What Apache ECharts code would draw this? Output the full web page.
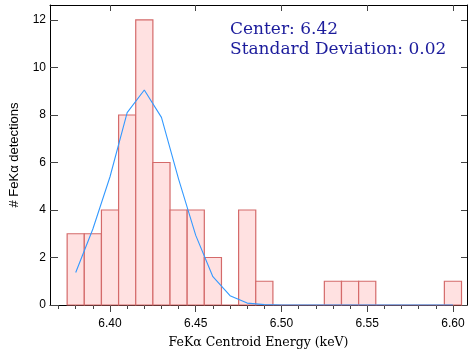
<!DOCTYPE html>
<html><head><meta charset="utf-8">
<script src="https://cdn.jsdelivr.net/npm/echarts@6/dist/echarts.min.js"></script>
<style>html,body{margin:0;padding:0;background:#fff}#c{width:468px;height:354px}</style>
</head><body><div id="c"></div>
<script>
// Histogram bin centres (keV) and counts
const binCenters = [6.38,6.39,6.40,6.41,6.42,6.43,6.44,6.45,6.46,6.47,6.48,6.49,6.50,6.51,6.52,6.53,6.54,6.55,6.56,6.57,6.58,6.59,6.60];
const counts     = [3,3,4,8,12,6,4,4,2,0,4,1,0,0,0,1,1,1,0,0,0,0,1];
const fitValues  = [1.37,3.2,5.4,8.1,9.05,7.9,5.3,2.93,1.19,0.39,0.08,0.015,0,0,0,0,0,0,0,0,0,0,0];
const binWidth = 0.01;
// Axis ticks / labels
const xMajorTicks = [6.40,6.45,6.50,6.55,6.60];
const xMinorTicks = [6.37,6.38,6.39,6.40,6.41,6.42,6.43,6.44,6.45,6.46,6.47,6.48,6.49,6.50,6.51,6.52,6.53,6.54,6.55,6.56,6.57,6.58,6.59,6.60];
const yTicks = [0,2,4,6,8,10,12];
const annotations = ['Center: 6.42','Standard Deviation: 0.02'];
const xTitle = 'FeKα Centroid Energy (keV)';
const yTitle = '# FeKα detections';

const X_MIN = 6.365, X_MAX = 6.6082, Y_MIN = 0, Y_MAX = 12.63;
const sans = '"Liberation Sans", Arial, sans-serif';
const serif = '"DejaVu Serif", serif';

const chart = echarts.init(document.getElementById('c'), null, {renderer:'canvas'});
const lineBlack = {show:true, lineStyle:{color:'#000', width:1}};
const option = {
  animation:false,
  backgroundColor:'#fff',
  grid:{left:47, right:1, top:5, bottom:47, containLabel:false},
  xAxis:[
    {type:'value', position:'bottom', min:X_MIN, max:X_MAX,
     axisLine:lineBlack,
     axisTick:{show:true, inside:false, length:7, lineStyle:{color:'#444'}, customValues:xMajorTicks},
     axisLabel:{show:true, margin:13, fontFamily:sans, fontSize:12, color:'#000',
       customValues:xMajorTicks, formatter:v=>v.toFixed(2)},
     splitLine:{show:false},
     name:xTitle, nameLocation:'middle', nameGap:31,
     nameTextStyle:{fontFamily:serif, fontSize:12.5, color:'#000'}},
    {type:'value', position:'bottom', min:X_MIN, max:X_MAX,
     axisLine:{show:false},
     axisTick:{show:true, inside:false, length:4, lineStyle:{color:'#444'}, customValues:xMinorTicks},
     axisLabel:{show:false}, splitLine:{show:false}},
    {type:'value', position:'top', min:X_MIN, max:X_MAX,
     axisLine:lineBlack,
     axisTick:{show:true, inside:true, length:6, lineStyle:{color:'#444'}, customValues:xMajorTicks},
     axisLabel:{show:false}, splitLine:{show:false}}
  ],
  yAxis:[
    {type:'value', position:'left', min:Y_MIN, max:Y_MAX,
     axisLine:lineBlack,
     axisTick:{show:true, inside:true, length:8, lineStyle:{color:'#444'}, customValues:yTicks},
     axisLabel:{show:true, margin:4, fontFamily:sans, fontSize:12, color:'#000', customValues:yTicks},
     splitLine:{show:false},
     name:yTitle, nameLocation:'middle', nameGap:29,
     nameTextStyle:{fontFamily:sans, fontSize:13, color:'#000'}},
    {type:'value', position:'right', min:Y_MIN, max:Y_MAX,
     axisLine:lineBlack,
     axisTick:{show:true, inside:true, length:6, lineStyle:{color:'#444'}, customValues:yTicks},
     axisLabel:{show:false}, splitLine:{show:false}}
  ],
  series:[
    {type:'custom', xAxisIndex:0, yAxisIndex:0, z:2,
     data: binCenters.map((c,i)=>[c, counts[i]]),
     renderItem:function(params, api){
       const x = api.value(0), y = api.value(1);
       const p0 = api.coord([x-binWidth/2, y]);
       const p1 = api.coord([x+binWidth/2, 0]);
       return {type:'rect',
         shape:{x:p0[0], y:p0[1], width:p1[0]-p0[0], height:p1[1]-p0[1]},
         style:{fill:'#ffe1e1', stroke:'#d46a6a', lineWidth:1.2}};
     }},
    {type:'line', xAxisIndex:0, yAxisIndex:0, z:3,
     data: binCenters.map((c,i)=>[c, fitValues[i]]),
     symbol:'none', lineStyle:{color:'#3399ff', width:1.1}, itemStyle:{color:'#3399ff'}}
  ],
  graphic:[
    {type:'text', left:230, top:21, style:{text:annotations[0], font:'17px '+serif, fill:'#1c1c9c'}},
    {type:'text', left:230, top:41, style:{text:annotations[1], font:'17px '+serif, fill:'#1c1c9c'}}
  ]
};
chart.setOption(option);
</script>
</body></html>
